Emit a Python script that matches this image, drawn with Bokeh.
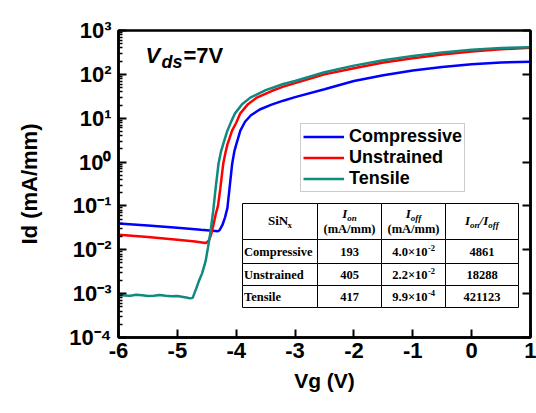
from bokeh.plotting import figure
from bokeh.models import (Label, Legend, LegendItem, LogAxis, BoxAnnotation,
                          FixedTicker, Range1d)
from bokeh.embed import file_html
from bokeh.resources import INLINE

# ---------------- data ----------------
series_names = ["Compressive", "Unstrained", "Tensile"]
series_colors = ["#0000FF", "#FF0000", "#0E8A80"]

vg_compressive = [-6.0, -5.5, -5.0, -4.6, -4.4, -4.31, -4.28, -4.23, -4.19, -4.15,
                  -4.11, -4.07, -4.03, -4.0, -3.93, -3.85, -3.75, -3.6, -3.4, -3.2,
                  -3.0, -2.5, -2.0, -1.5, -1.0, -0.5, 0.0, 0.5, 1.0]
id_compressive = [0.040, 0.036, 0.032, 0.0285, 0.0272, 0.0265, 0.0282, 0.038, 0.055, 0.089,
                  0.28, 0.89, 1.8, 2.5, 5.2, 8.3, 11.7, 15.8, 20.4, 25.1,
                  30.2, 45.7, 70.8, 95.5, 123.0, 148.0, 170.0, 186.0, 193.0]

vg_unstrained = [-6.0, -5.5, -5.0, -4.7, -4.52, -4.47, -4.43, -4.39, -4.35, -4.31,
                 -4.27, -4.22, -4.18, -4.15, -4.07, -4.0, -3.93, -3.8, -3.65, -3.4,
                 -3.2, -3.0, -2.5, -2.0, -1.5, -1.0, -0.5, 0.0, 0.5, 1.0]
id_unstrained = [0.022, 0.0195, 0.017, 0.0155, 0.0142, 0.0158, 0.0214, 0.0355, 0.063, 0.10,
                 0.25, 0.93, 1.7, 2.5, 5.2, 7.9, 12.9, 20.9, 29.5, 41.7,
                 52.5, 63.1, 100.0, 138.0, 186.0, 234.0, 282.0, 331.0, 372.0, 405.0]

vg_tensile = [-6.0, -5.9, -5.8, -5.7, -5.6, -5.5, -5.4, -5.3, -5.2, -5.1,
              -5.0, -4.9, -4.85, -4.78, -4.74, -4.68, -4.63, -4.58, -4.52, -4.48,
              -4.44, -4.39, -4.35, -4.30, -4.26, -4.22, -4.15, -4.08, -4.02, -3.9,
              -3.76, -3.5, -3.2, -3.0, -2.5, -2.0, -1.5, -1.0, -0.5, 0.0, 0.5, 1.0]
id_tensile = [9.6e-4, 9.1e-4, 9.0e-4, 9.4e-4, 9.2e-4, 8.8e-4, 9.0e-4, 9.3e-4, 8.9e-4, 8.7e-4,
              8.8e-4, 8.4e-4, 8.2e-4, 7.8e-4, 8.0e-4, 1.3e-3, 2.0e-3, 2.9e-3, 5.5e-3, 0.0112,
              0.024, 0.079, 0.25, 0.93, 1.7, 2.6, 5.2, 8.7, 12.9, 20.9,
              29.5, 43.7, 60.3, 70.8, 112.0, 158.0, 209.0, 263.0, 316.0, 363.0, 398.0, 417.0]

x_ticks = [-6, -5, -4, -3, -2, -1, 0, 1]
x_tick_labels = ["-6", "-5", "-4", "-3", "-2", "-1", "0", "1"]
y_tick_exponents = [-4, -3, -2, -1, 0, 1, 2, 3]
y_tick_labels = ["10\u207b\u2074", "10\u207b\u00b3", "10\u207b\u00b2", "10\u207b\u00b9",
                 "10\u2070", "10\u00b9", "10\u00b2", "10\u00b3"]
x_title = "Vg (V)"
y_title = "Id (mA/mm)"

table_rows = ["Compressive", "Unstrained", "Tensile"]
table_ion = ["193", "405", "417"]
table_ioff_mantissa = ["4.0\u00d710", "2.2\u00d710", "9.9\u00d710"]
table_ioff_exponent = ["-2", "-2", "-4"]
table_ratio = ["4861", "18288", "421123"]

# ---------------- layout ----------------
W, H = 536, 413
FL, FR, FT, FB = 118, 530, 30, 337
X0, X1 = -6, 1
E0, E1 = -4, 3


def dx(px):
    return X0 + (px - FL) * (X1 - X0) / (FR - FL)


def dy(py):
    return 10 ** (E1 - (py - FT) * (E1 - E0) / (FB - FT))


p = figure(width=W, height=H, x_range=Range1d(X0, X1),
           y_range=Range1d(10 ** E0, 10 ** E1), y_axis_type="log",
           output_backend="svg", toolbar_location=None,
           min_border_left=FL, min_border_right=W - FR,
           min_border_top=FT, min_border_bottom=H - FB)
p.background_fill_color = "white"
p.border_fill_color = "white"
p.xgrid.grid_line_color = None
p.ygrid.grid_line_color = None
p.outline_line_color = "black"
p.outline_line_width = 2.5

renderers = []
for vg, idv, col in [(vg_compressive, id_compressive, series_colors[0]),
                     (vg_unstrained, id_unstrained, series_colors[1]),
                     (vg_tensile, id_tensile, series_colors[2])]:
    r = p.line(vg, idv, line_color=col, line_width=2.5)
    renderers.append(r)

# x axis
xa = p.xaxis[0]
xa.ticker = FixedTicker(ticks=x_ticks)
xa.major_label_overrides = {t: l for t, l in zip(x_ticks, x_tick_labels)}
xa.major_label_text_font = "Liberation Sans"
xa.major_label_text_font_style = "bold"
xa.major_label_text_font_size = "22px"
xa.major_label_text_color = "black"
xa.major_label_standoff = 5
xa.axis_line_width = 2.5
xa.major_tick_in = 8
xa.major_tick_out = 0
xa.major_tick_line_width = 2
xa.minor_tick_line_color = None
xa.axis_label = x_title
xa.axis_label_text_font = "Liberation Sans"
xa.axis_label_text_font_style = "bold"
xa.axis_label_text_font_size = "21px"
xa.axis_label_text_color = "black"
xa.axis_label_standoff = 8

y_major = [10 ** e for e in y_tick_exponents]

# y axis (left)
minor = [k * 10 ** e for e in range(E0, E1) for k in range(2, 10)]
ya = p.yaxis[0]
ya.ticker = FixedTicker(ticks=y_major, minor_ticks=minor)
ya.major_label_overrides = {t: l for t, l in zip(y_major, y_tick_labels)}
ya.major_label_text_font = "Liberation Sans"
ya.major_label_text_font_style = "bold"
ya.major_label_text_font_size = "22px"
ya.major_label_text_color = "black"
ya.major_label_standoff = 7
ya.axis_line_width = 2.5
ya.major_tick_in = 8
ya.major_tick_out = 0
ya.major_tick_line_width = 2
ya.minor_tick_in = 4
ya.minor_tick_out = 0
ya.minor_tick_line_width = 1.5
ya.axis_label = y_title
ya.axis_label_text_font = "Liberation Sans"
ya.axis_label_text_font_style = "bold"
ya.axis_label_text_font_size = "22px"
ya.axis_label_text_color = "black"
ya.axis_label_standoff = 24

# right axis
ra = LogAxis(ticker=FixedTicker(ticks=y_major))
ra.major_label_overrides = {t: "" for t in y_major}
ra.major_label_standoff = 0
ra.axis_line_width = 2.5
ra.major_tick_in = 8
ra.major_tick_out = 0
ra.major_tick_line_width = 2
ra.minor_tick_line_color = None
p.add_layout(ra, "right")


def txt(px, py, s, size, style="bold", font="Liberation Sans", align="left"):
    # (px, py): baseline position in pixels -> middle line in data units
    py = py - 0.35 * size
    p.add_layout(Label(x=dx(px), y=dy(py), text=s, text_font=font,
                       text_font_size=f"{size}px", text_font_style=style,
                       text_align=align, text_baseline="middle",
                       text_color="black"))


# in-plot annotation
txt(145, 63, "V", 22, style="bold italic")
txt(161, 68, "ds", 18, style="bold italic")
txt(183, 63, "=7V", 22)

# legend (inside the frame, in the empty area above the table)
legend = Legend(items=[LegendItem(label=n, renderers=[r]) for n, r in zip(series_names, renderers)],
                orientation="vertical", location=(182, 145),
                label_text_font="Liberation Sans", label_text_font_style="bold",
                label_text_font_size="18px", label_text_color="black",
                glyph_width=41, glyph_height=19,
                label_height=19, label_standoff=5, spacing=0, padding=2, margin=0,
                border_line_color="#9a9a9a", border_line_width=1,
                background_fill_color="white", background_fill_alpha=1)
p.add_layout(legend)

# table
cols = [242, 317, 381, 445, 518]
rows = [203, 239, 263, 285, 307]
for i in range(4):
    for j in range(4):
        p.add_layout(BoxAnnotation(left=dx(cols[j]), right=dx(cols[j + 1]),
                                   top=dy(rows[i]), bottom=dy(rows[i + 1]),
                                   fill_color="white", fill_alpha=1,
                                   line_color="black", line_width=1, line_alpha=1))

SER = "Liberation Serif"
txt(267.5, 225, "SiN", 13, font=SER)
txt(287, 228, "x", 9, font=SER)
c2 = (cols[1] + cols[2]) / 2
txt(c2 - 7.3, 218, "I", 13, style="bold italic", font=SER)
txt(c2 - 2.2, 221, "on", 9, style="bold italic", font=SER)
txt(c2, 233, "(mA/mm)", 12.5, font=SER, align="center")
c3 = (cols[2] + cols[3]) / 2
txt(c3 - 7.8, 218, "I", 13, style="bold italic", font=SER)
txt(c3 - 2.7, 221, "off", 9, style="bold italic", font=SER)
txt(c3, 233, "(mA/mm)", 12.5, font=SER, align="center")
c4 = (cols[3] + cols[4]) / 2
x = c4 - 17
txt(x, 225, "I", 13, style="bold italic", font=SER)
txt(x + 5.1, 228, "on", 9, style="bold italic", font=SER)
txt(x + 14.6, 225, "/I", 13, style="bold italic", font=SER)
txt(x + 23.3, 228, "off", 9, style="bold italic", font=SER)

for k in range(3):
    cy = (rows[k + 1] + rows[k + 2]) / 2
    base = cy + 4.5
    txt(cols[0] + 1.5, base, table_rows[k], 12.5, font=SER)
    txt(c2, base, table_ion[k], 12.5, font=SER, align="center")
    txt(c3 + 14, base, table_ioff_mantissa[k], 12.5, font=SER, align="right")
    txt(c3 + 14.5, base - 5.5, table_ioff_exponent[k], 8.5, font=SER)
    txt(c4, base, table_ratio[k], 12.5, font=SER, align="center")

open("out.html", "w").write(file_html(p, INLINE))
